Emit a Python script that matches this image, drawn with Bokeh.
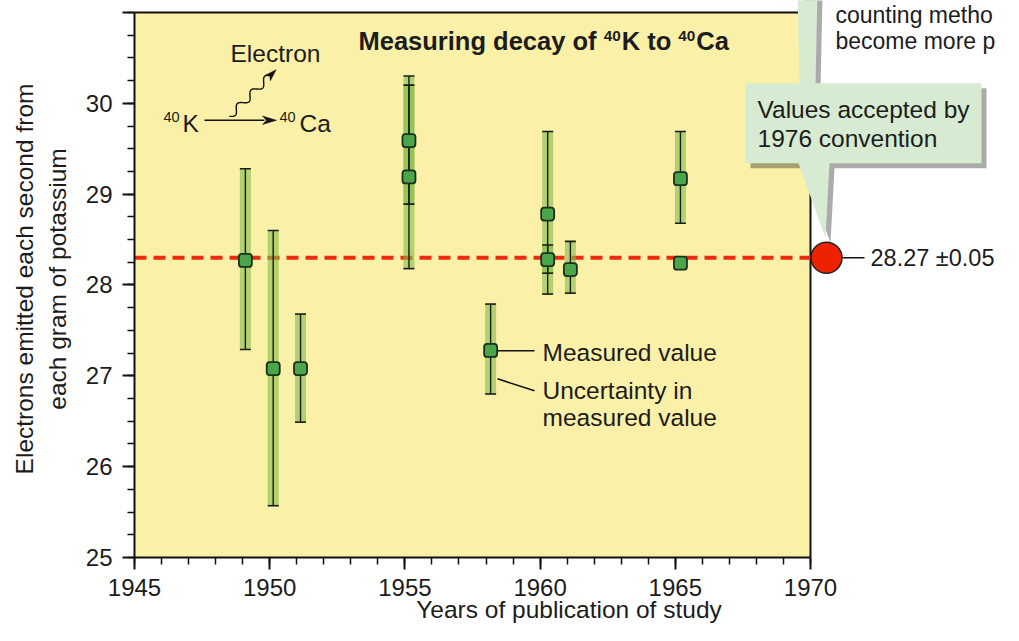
import numpy as np
from bokeh.plotting import figure
from bokeh.models import Range1d, FixedTicker
from bokeh.core.properties import value
from bokeh.embed import file_html
from bokeh.resources import INLINE

# ---------------- data ----------------
study_year = [1949.10, 1950.13, 1951.14, 1955.15, 1955.15, 1958.17, 1960.28, 1960.28, 1961.12, 1965.19, 1965.19]
measured   = [28.27, 27.08, 27.08, 29.59, 29.19, 27.28, 28.78, 28.28, 28.17, 29.17, 28.24]
upper      = [29.28, 28.60, 27.68, 30.30, 30.20, 27.79, 29.69, 28.44, 28.48, 29.69, 28.25]
lower      = [27.29, 25.57, 26.49, 28.89, 28.18, 26.80, 27.90, 28.13, 27.91, 28.68, 28.23]
accepted_value = 28.30
accepted_text = "28.27 \u00b10.05"
x_ticks = [1945, 1950, 1955, 1960, 1965, 1970]
y_ticks = [25, 26, 27, 28, 29, 30, 31]
y_tick_labels = {31: ""}

# ---------------- layout ----------------
FONT = "Liberation Sans"
TXT = "#1c1c1c"
YELLOW = "#faf0a8"
W, H = 1003, 625
X_PX0, PX_PER_YEAR = 134.0, 27.04   # px of 1945
Y_PX0, PX_PER_UNIT = 558.0, 91.0    # px of 25
LEFT, BOTTOM = int(X_PX0), int(H - Y_PX0)

def dx(px):
    return 1945 + (np.asarray(px, dtype=float) - X_PX0) / PX_PER_YEAR

def dy(py):
    return 25 + (Y_PX0 - np.asarray(py, dtype=float)) / PX_PER_UNIT

x_end = float(dx(W))
y_end = float(dy(0))

p = figure(width=W, height=H, x_range=Range1d(1945, x_end), y_range=Range1d(25, y_end),
           output_backend="svg", toolbar_location=None,
           min_border_left=LEFT, min_border_right=0, min_border_top=0, min_border_bottom=BOTTOM)
p.outline_line_color = None
p.grid.visible = False
p.background_fill_color = "white"
p.border_fill_color = "white"

# axes
xa = p.xaxis[0]
xa.bounds = (1945, 1970)
xa.ticker = FixedTicker(ticks=x_ticks, minor_ticks=list(range(1945, 1971)))
ya = p.yaxis[0]
ya.bounds = (25, 31)
ya.ticker = FixedTicker(ticks=y_ticks, minor_ticks=[25 + 0.25 * i for i in range(25)])
ya.major_label_overrides = y_tick_labels
for ax in (xa, ya):
    ax.major_tick_in = 0
    ax.major_tick_out = 12
    ax.minor_tick_in = 0
    ax.minor_tick_out = 7
    ax.axis_line_width = 2
    ax.axis_line_color = "#111111"
    ax.major_tick_line_width = 2
    ax.major_tick_line_color = "#111111"
    ax.minor_tick_line_width = 1.5
    ax.minor_tick_line_color = "#111111"
    ax.major_label_text_font = FONT
    ax.major_label_text_font_size = "24px"
    ax.major_label_text_color = TXT
    ax.axis_label_text_font = FONT
    ax.axis_label_text_font_size = "24.5px"
    ax.axis_label_text_font_style = "normal"
    ax.axis_label_text_color = TXT
xa.major_label_standoff = 9
ya.major_label_standoff = 10
ya.axis_label = "Electrons emitted each second from\neach gram of potassium"
ya.axis_label_text_line_height = 1.22
ya.axis_label_standoff = 12
xa.axis_label = "Years of publication of study"
xa.axis_label_standoff = -3

# plot background and border
p.quad(left=1945, right=1970, bottom=25, top=31, fill_color=YELLOW, line_color=None)
p.segment(x0=[1945, 1970], y0=[31, 25], x1=[1970, 1970], y1=[31, 31], line_color="#111111", line_width=2)

# accepted value dashed line
p.line([1945, 1970], [accepted_value, accepted_value], line_color="#ee2a0e", line_width=4, line_dash="12 7")

# uncertainty bands
p.segment(x0=study_year, y0=lower, x1=study_year, y1=upper, line_width=11,
          line_color="#80be48", line_alpha=0.6)
p.segment(x0=study_year, y0=lower, x1=study_year, y1=upper, line_width=1.4, line_color="#1a1a1a")
p.scatter(study_year, upper, marker="dash", size=11, line_width=1.6, line_color="#1a1a1a")
p.scatter(study_year, lower, marker="dash", size=11, line_width=1.6, line_color="#1a1a1a")

# measured-value markers (rounded squares)
hw = 6.5 / PX_PER_YEAR
hh = 6.5 / PX_PER_UNIT
sy = np.array(study_year)
mv = np.array(measured)
p.quad(left=sy - hw, right=sy + hw, bottom=mv - hh, top=mv + hh, border_radius=3,
       fill_color="#4aa64a", line_color="#1b311b", line_width=1.8)

# accepted value circle and label
cx = float(dx(826))
p.line([float(dx(842)), float(dx(864))], [accepted_value, accepted_value], line_color="#111111", line_width=1.5)
p.scatter([cx], [accepted_value], marker="circle", size=31, fill_color="#ee2200",
          line_color="#222222", line_width=1.5)

def txt(px, py, s, size=24.5, style="normal", align="left"):
    # py is the wanted baseline; the glyph is placed on the cap centre
    yc = py - 0.36 * size
    p.text(x=[float(dx(px))], y=[float(dy(yc))], text=[s], text_font=value(FONT),
           text_font_size=f"{size}px", text_font_style=style, text_color=TXT,
           text_align=align, text_baseline="alphabetic")

txt(870, 266, accepted_text, size=23.5)

# legend-like annotation
p.line([float(dx(497)), float(dx(534))], [float(dy(351)), float(dy(351))], line_color="#111111", line_width=1.5)
p.line([float(dx(497)), float(dx(534))], [float(dy(379)), float(dy(391))], line_color="#111111", line_width=1.5)
txt(542, 361, "Measured value")
txt(542, 400, "Uncertainty in")
txt(542, 427, "measured value")

# title with superscripts
BOLD_W = {'M': 833, 'e': 556, 'a': 556, 's': 556, 'u': 611, 'r': 389, 'i': 278, 'n': 611,
          'g': 611, ' ': 278, 'd': 611, 'c': 556, 'y': 556, 'o': 611, 'f': 333, 'K': 722,
          't': 333, 'C': 722, '4': 556, '0': 556}

def bw(s, size):
    return sum(BOLD_W[c] for c in s) / 1000.0 * size

title_parts = [("Measuring decay of ", False), ("40", True), ("K to ", False), ("40", True), ("Ca", False)]
tx = 358.0
for s, sup in title_parts:
    size = 15.3 if sup else 25.5
    txt(tx, 41 if sup else 50, s, size=size, style="bold")
    tx += bw(s, size) + (1 if sup else 0)

# decay diagram
txt(230, 62, "Electron")
txt(163, 122, "40", size=14.5)
txt(182, 132, "K")
txt(279, 122, "40", size=14.5)
txt(299, 132, "Ca")
p.line([float(dx(204)), float(dx(264))], [float(dy(120))] * 2, line_color="#111111", line_width=1.5)

def arrow_head(tip, u, length=14, half=4.2, notch=10):
    tip = np.asarray(tip, float)
    u = np.asarray(u, float)
    n = np.array([-u[1], u[0]])
    pts = np.array([tip, tip - length * u + half * n, tip - notch * u, tip - length * u - half * n])
    p.patch(list(dx(pts[:, 0])), list(dy(pts[:, 1])), fill_color="#111111", line_color="#111111", line_width=0.5)

arrow_head((276, 120), (1, 0))

S = np.array([229.0, 116.0])
E = np.array([270.0, 75.0])
d = E - S
L = np.hypot(*d)
u = d / L
nrm = np.array([-u[1], u[0]])
t = np.linspace(0, 1, 150)
wave = S[None, :] + t[:, None] * d[None, :] + (3.5 * np.sin(2 * np.pi * 3.0 * t))[:, None] * nrm[None, :]
p.line(list(dx(wave[:, 0])), list(dy(wave[:, 1])), line_color="#111111", line_width=1.4)
arrow_head(E + 8 * u, u, length=12, half=3.8, notch=9)

# callouts
GREEN_BOX = "#d6ebd2"
SH = 5

def shape(xs, ys, color, alpha=1.0):
    p.patch(list(dx(xs)), list(dy(ys)), fill_color=color, fill_alpha=alpha, line_color=None)

strip_x = np.array([797, 817, 815, 799])
strip_y = np.array([-10, -10, 84, 84])
shape(strip_x + SH, strip_y + SH, "black", 0.33)
shape(strip_x, strip_y, GREEN_BOX)

box_x = np.array([745, 981, 981, 829, 825, 798, 745])
box_y = np.array([83, 83, 163, 163, 238, 163, 163])
shape(box_x + SH, box_y + SH, "black", 0.33)
shape(box_x, box_y, GREEN_BOX)
txt(757, 118, "Values accepted by")
txt(757, 147, "1976 convention")

txt(835, 23, "counting metho", size=23)
txt(835, 49, "become more p", size=23)

open("out.html", "w").write(file_html(p, INLINE))
